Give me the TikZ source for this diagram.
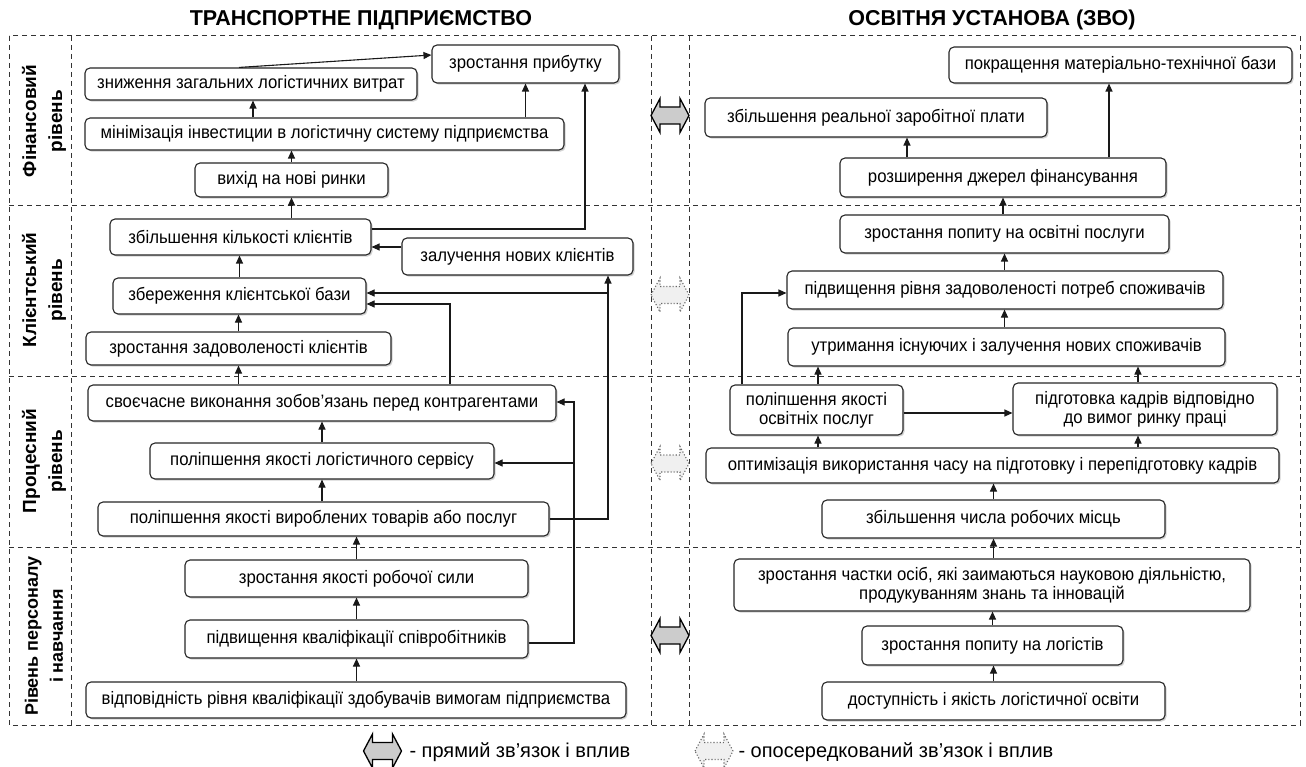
\documentclass[tikz,border=0pt]{standalone}
\usepackage{fontspec}
\setmainfont{Liberation Sans}
\newfontfamily\boxfont[FakeStretch=0.93]{Liberation Sans}
\usetikzlibrary{arrows.meta,shadows,calc}
\begin{document}
\begin{tikzpicture}[x=1pt,y=-1pt,
 box/.style={draw=black!85, line width=1.1pt, rounded corners=5pt, fill=white, inner sep=2pt, align=center,
   font=\boxfont\fontsize{18}{19}\selectfont,
   drop shadow={shadow xshift=1.6pt, shadow yshift=-1.6pt, fill=black!35}},
 arr/.style={line width=1.1pt, draw=black!90, -{Triangle[length=8pt,width=7pt]}},
 grid/.style={dash pattern=on 5pt off 4pt, line width=1pt, draw=black!80},
 lbl/.style={rotate=90, align=center, font=\fontsize{19}{26}\selectfont\bfseries},
 ttl/.style={font=\fontsize{21.5}{24}\selectfont\bfseries},
 leg/.style={anchor=west, font=\fontsize{20}{22}\selectfont},
 solidlink/.style={draw=black, line width=1.3pt, fill=black!20},
 dotlink/.style={draw=black!60, line width=1.1pt, dotted, fill=black!6},
 lnk/.pic={\path[pic actions] (-19,0) -- (-10,-17) -- (-10,-8.5) -- (10,-8.5) -- (10,-17) -- (19,0) -- (10,17) -- (10,8.5) -- (-10,8.5) -- (-10,17) -- cycle;}
]
\useasboundingbox (0,0) rectangle (1306,767);

% titles
\node[ttl] (T1) at (361,20) {ТРАНСПОРТНЕ ПІДПРИЄМСТВО};
\node[ttl] (T2) at (992,20) {ОСВІТНЯ УСТАНОВА (ЗВО)};

% grid
\draw[grid] (9,36) rectangle (1300,725);
\draw[grid] (71,36) -- (71,725);
\draw[grid] (651,36) -- (651,725);
\draw[grid] (689,36) -- (689,725);
\draw[grid] (9,206) -- (1300,206);
\draw[grid] (9,376) -- (1300,376);
\draw[grid] (9,547) -- (1300,547);

% level labels
\node[lbl] (L1) at (44,121) {Фінансовий\\рівень};
\node[lbl] (L2) at (44,290) {Клієнтський\\рівень};
\node[lbl] (L3) at (44,461) {Процесний\\рівень};
\node[lbl, font=\fontsize{18}{25}\selectfont\bfseries] (L4) at (44,636) {Рівень персоналу\\і навчання};

% left boxes
\node[box, minimum width=187pt, minimum height=38pt] (A1) at (525.5,64) {зростання прибутку};
\node[box, minimum width=332pt, minimum height=32pt] (A2) at (251,84) {зниження загальних логістичних витрат};
\node[box, minimum width=479pt, minimum height=32pt] (A3) at (324.5,134) {мінімізація інвестиции в логістичну систему підприємства};
\node[box, minimum width=193pt, minimum height=34pt] (A4) at (291.5,180) {вихід на нові ринки};
\node[box, minimum width=261pt, minimum height=36pt] (B1) at (240.5,237) {збільшення кількості клієнтів};
\node[box, minimum width=231pt, minimum height=37pt] (B2) at (517.5,256.5) {залучення нових клієнтів};
\node[box, minimum width=253pt, minimum height=36pt] (B3) at (239.5,296) {збереження клієнтської бази};
\node[box, minimum width=305pt, minimum height=33pt] (B4) at (238.5,348.5) {зростання задоволеності клієнтів};
\node[box, minimum width=468pt, minimum height=36pt] (C1) at (322,403) {своєчасне виконання зобов’язань перед контрагентами};
\node[box, minimum width=344pt, minimum height=36pt] (C2) at (322,461) {поліпшення якості логістичного сервісу};
\node[box, minimum width=451pt, minimum height=34pt] (C3) at (323.5,519) {поліпшення якості вироблених товарів або послуг};
\node[box, minimum width=343pt, minimum height=37pt] (D1) at (356.5,578.5) {зростання якості робочої сили};
\node[box, minimum width=343pt, minimum height=38pt] (D2) at (356.5,639) {підвищення кваліфікації співробітників};
\node[box, minimum width=540pt, minimum height=36pt] (D3) at (356,700) {відповідність рівня кваліфікації здобувачів вимогам підприємства};

% right boxes
\node[box, minimum width=343pt, minimum height=36pt] (E1) at (1120.5,65) {покращення матеріально-технічної бази};
\node[box, minimum width=342pt, minimum height=39pt] (E2) at (876,117.5) {збільшення реальної заробітної плати};
\node[box, minimum width=326pt, minimum height=39pt] (E3) at (1003,177.5) {розширення джерел фінансування};
\node[box, minimum width=329pt, minimum height=38pt] (F1) at (1004.5,234) {зростання попиту на освітні послуги};
\node[box, minimum width=436pt, minimum height=38pt] (F2) at (1005,290) {підвищення рівня задоволеності потреб споживачів};
\node[box, minimum width=437pt, minimum height=38pt] (F3) at (1006.5,347) {утримання існуючих і залучення нових споживачів};
\node[box, minimum width=173pt, minimum height=50pt] (G1) at (816.5,410) {поліпшення якості\\освітніх послуг};
\node[box, minimum width=264pt, minimum height=52pt] (G2) at (1145,409) {підготовка кадрів відповідно\\до вимог ринку праці};
\node[box, minimum width=573pt, minimum height=35pt] (G3) at (992.5,465.5) {оптимізація використання часу на підготовку і перепідготовку кадрів};
\node[box, minimum width=343pt, minimum height=38pt] (G4) at (993.5,519) {збільшення числа робочих місць};
\node[box, minimum width=516pt, minimum height=52pt] (H1) at (992,585) {зростання частки осіб, які заимаються науковою діяльністю,\\продукуванням знань та інновацій};
\node[box, minimum width=261pt, minimum height=39pt] (H2) at (992.5,645.5) {зростання попиту на логістів};
\node[box, minimum width=343pt, minimum height=38pt] (H3) at (993.5,701) {доступність і якість логістичної освіти};

% bus coordinates
\coordinate (bus1) at (585,0);
\coordinate (bus3) at (608,0);
\coordinate (bus4) at (574,0);
\coordinate (bus5) at (742,0);
\coordinate (x818) at (818,0);
\coordinate (x1138) at (1138,0);
\coordinate (x1109) at (1109,0);
\coordinate (x907) at (907,0);

% left connectors
\draw[arr] ([xshift=-12pt]A2.north) -- ([yshift=9pt]A1.west);
\draw[arr] ([xshift=-71.5pt]A3.north) -- ([xshift=-71.5pt]A3.north |- A2.south);
\draw[arr] (A1.south |- A3.north) -- (A1.south);
\draw[arr] (A4.north) -- (A4.north |- A3.south);
\draw[arr] (A4.south |- B1.north) -- (A4.south);
\draw[arr] ([yshift=8pt]B1.east) -| (bus1 |- A1.south);
\coordinate (j0) at ([yshift=9.5pt]B2.west);
\draw[arr] (j0) -- (j0 -| B1.east);
\draw[arr] (B3.north) -- (B3.north |- B1.south);
\draw[arr] (B4.north) -- (B4.north |- B3.south);
\draw[arr] (B4.south |- C1.north) -- (B4.south);
\draw[arr] ([xshift=128pt]C1.north) |- ([yshift=-8pt]B3.east);
\draw[arr] (C3.east) -| (bus3 |- B2.south);
\coordinate (j1) at ([yshift=3pt]B3.east);
\draw[arr] (j1 -| bus3) -- (j1);
\coordinate (j2) at ([yshift=-4pt]D2.east);
\coordinate (j3) at ([yshift=1pt]C1.east);
\coordinate (j4) at ([yshift=-2pt]C2.east);
\draw[arr] (j2) -| (bus4 |- j3) -- (j3);
\draw[arr] (j4 -| bus4) -- (j4);
\draw[arr] (C2.north) -- (C2.north |- C1.south);
\draw[arr] (C3.north -| C2.south) -- (C2.south);
\draw[arr] (D1.north) -- (D1.north |- C3.south);
\draw[arr] (D2.north) -- (D1.south);
\draw[arr] (D3.north -| D2.south) -- (D2.south);

% right connectors
\draw[arr] (x907 |- E3.north) -- (x907 |- E2.south);
\draw[arr] (x1109 |- E3.north) -- (x1109 |- E1.south);
\draw[arr] (E3.south |- F1.north) -- (E3.south);
\draw[arr] (F1.south |- F2.north) -- (F1.south);
\draw[arr] (F1.south |- F3.north) -- (F1.south |- F2.south);
\draw[arr] (x818 |- G1.north) -- (x818 |- F3.south);
\draw[arr] (x1138 |- G2.north) -- (x1138 |- F3.south);
\coordinate (j6) at ([yshift=-3pt]F2.west);
\draw[arr] (bus5 |- G1.north) |- (j6);
\coordinate (j7) at ([yshift=-3pt]G1.east);
\draw[arr] (j7) -- (j7 -| G2.west);
\draw[arr] (x818 |- G3.north) -- (x818 |- G1.south);
\draw[arr] (x1138 |- G3.north) -- (x1138 |- G2.south);
\draw[arr] (G4.north) -- (G4.north |- G3.south);
\draw[arr] (G4.south |- H1.north) -- (G4.south);
\draw[arr] (H2.north) -- (H2.north |- H1.south);
\draw[arr] (H3.north) -- (H3.north |- H2.south);

% link arrows
\pic[solidlink] at (670,115.5) {lnk};
\pic[dotlink] at (670,295) {lnk};
\pic[dotlink] at (670,463.5) {lnk};
\pic[solidlink] at (670,635.5) {lnk};

% legend
\pic[solidlink] at (382.5,751) {lnk};
\node[leg] (LG1) at (406,752) {- прямий зв’язок і вплив};
\pic[dotlink] at (714,751) {lnk};
\node[leg] (LG2) at (735,752) {- опосередкований зв’язок і вплив};
\end{tikzpicture}
\end{document}
